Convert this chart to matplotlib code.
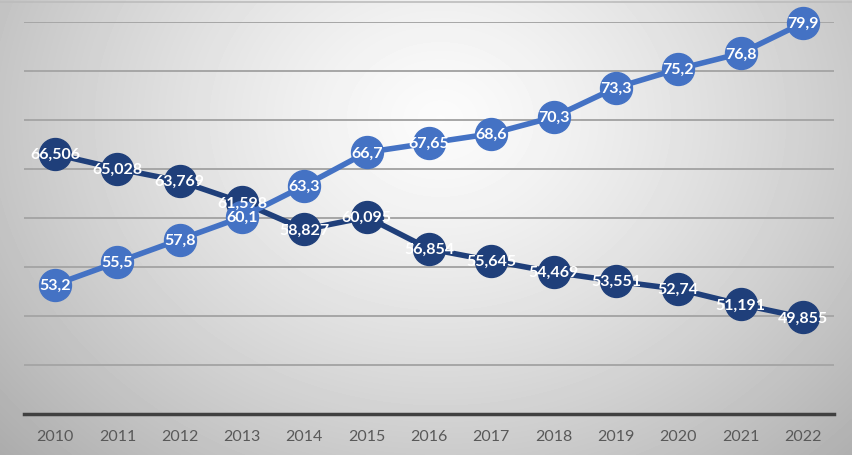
import numpy as np
import matplotlib
matplotlib.use("Agg")
import matplotlib.pyplot as plt

#%% data
years = ["2010", "2011", "2012", "2013", "2014", "2015", "2016",
         "2017", "2018", "2019", "2020", "2021", "2022"]
dark_vals = [66.506, 65.028, 63.769, 61.598, 58.827, 60.095, 56.854,
             55.645, 54.469, 53.551, 52.74, 51.191, 49.855]
light_vals = [53.2, 55.5, 57.8, 60.1, 63.3, 66.7, 67.65,
              68.6, 70.3, 73.3, 75.2, 76.8, 79.9]
y_ticks = [40, 45, 50, 55, 60, 65, 70, 75, 80]

dark_col = "#1F3F7A"
light_col = "#4472C4"

#%% figure with radial gray background
fig = plt.figure(figsize=(8.52, 4.56), dpi=100)
bg = fig.add_axes([0, 0, 1, 1])
h, w = 456, 852
yy, xx = np.mgrid[0:h, 0:w]
r = np.sqrt(((xx - 440) / 520.0) ** 2 + ((yy - 120) / 430.0) ** 2)
shade = np.clip(0.985 - 0.26 * r ** 1.3, 0, 1)
bg.imshow(shade, cmap="gray", vmin=0, vmax=1, aspect="auto",
          extent=[0, 1, 0, 1], origin="upper")
bg.axhline(0.993, color="#bcbcbc", lw=1.2)
bg.axis("off")

ax = fig.add_axes([24 / 852, 41 / 456, 810 / 852, 392 / 456])
ax.patch.set_alpha(0)
x = np.arange(len(years))

ax.plot(x, dark_vals, color=dark_col, lw=4, marker="o", ms=23,
        mfc=dark_col, mec=dark_col, zorder=3, clip_on=False)
ax.plot(x, light_vals, color=light_col, lw=4, marker="o", ms=23,
        mfc=light_col, mec=light_col, zorder=4, clip_on=False)

# data labels, comma as decimal sign
for vals in (dark_vals, light_vals):
    for xi, v in zip(x, vals):
        ax.text(xi, v, str(v).replace(".", ","), color="white", fontsize=11.5,
                fontweight="bold", family="Lato", ha="center", va="center",
                zorder=6, clip_on=False)

ax.set_xlim(-0.5, len(years) - 0.5)
ax.set_ylim(40, 80)
ax.set_yticks(y_ticks)
ax.yaxis.grid(True, color="#a6a6a6", lw=1.4)
ax.set_axisbelow(True)
ax.tick_params(axis="y", left=False, labelleft=False)
ax.set_xticks(x)
ax.set_xticklabels(years, fontsize=11.5, color="#595959", family="Lato")
ax.tick_params(axis="x", length=0, pad=11)
for s in ["top", "right", "left"]:
    ax.spines[s].set_visible(False)
ax.spines["bottom"].set_color("#404040")
ax.spines["bottom"].set_linewidth(2.5)

plt.savefig("out.png", dpi=100)
